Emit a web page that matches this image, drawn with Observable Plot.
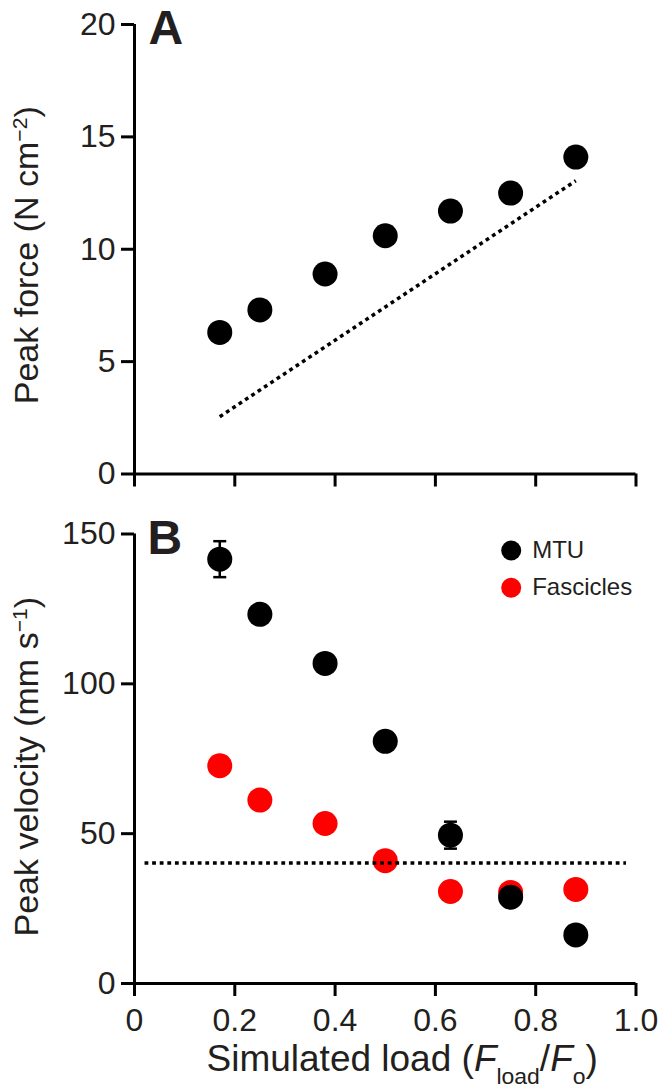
<!DOCTYPE html>
<html><head><meta charset="utf-8">
<script src="https://cdn.jsdelivr.net/npm/d3@7"></script>
<script src="https://cdn.jsdelivr.net/npm/@observablehq/plot@0.6"></script>
<style>
html,body{margin:0;padding:0;background:#fff;}
#chart svg{display:block;}
</style></head><body><div id="chart"></div>
<script>
// ---- data ----
const loads = [0.17, 0.25, 0.38, 0.50, 0.63, 0.75, 0.88];
const peakForce = [6.3, 7.3, 8.9, 10.6, 11.7, 12.5, 14.1];
const predictedLoads = [0.17, 0.88];
const predictedForce = [2.55, 13.05];
const mtuVelocity = [141.6, 123.2, 106.8, 80.8, 49.5, 28.8, 16.2];
const mtuError = [6, 0, 0, 0, 4.5, 0, 0];
const fascicleVelocity = [72.7, 61.2, 53.4, 41.0, 30.7, 30.4, 31.4];
const thresholdLoads = [0.02, 0.98];
const thresholdVelocity = [40.2, 40.2];
const xTicks = [0, 0.2, 0.4, 0.6, 0.8, 1.0];
const forceTicks = [0, 5, 10, 15, 20];
const velocityTicks = [0, 50, 100, 150];
const seriesNames = ["MTU", "Fascicles"];
const seriesColors = ["#000000", "#ff0000"];

// ---- tables ----
const forceData = loads.map((x, i) => ({x, y: peakForce[i]}));
const predData = predictedLoads.map((x, i) => ({x, y: predictedForce[i]}));
const mtuData = loads.map((x, i) => ({x, y: mtuVelocity[i], e: mtuError[i]}));
const errData = mtuData.filter(d => d.e > 0);
const fasData = loads.map((x, i) => ({x, y: fascicleVelocity[i]}));
const thrData = thresholdLoads.map((x, i) => ({x, y: thresholdVelocity[i]}));

const FONT = "'Liberation Sans', Arial, Helvetica, sans-serif";
const TXT = "#231f20";
const capSymbol = {draw(ctx) { ctx.moveTo(-6.5, 0); ctx.lineTo(6.5, 0); }};
const dotted = {stroke: "black", strokeWidth: 3.5, strokeDasharray: "3.8 3.8", strokeLinecap: "butt"};

const common = {
  width: 660, marginLeft: 134, marginRight: 24.5,
  x: {domain: [0, 1]},
  style: {fontFamily: FONT, fontSize: "32px", color: TXT, background: "#fff", overflow: "visible"}
};

const axisLines = (ymax) => [
  Plot.ruleX([0], {y1: 0, y2: ymax, stroke: "black", strokeWidth: 3}),
  Plot.ruleY([0], {x1: 0, x2: 1, stroke: "black", strokeWidth: 3})
];

const chartA = Plot.plot({
  ...common, height: 500, marginTop: 24, marginBottom: 26.5,
  y: {domain: [0, 20]},
  marks: [
    Plot.axisY({ticks: forceTicks, tickSize: 13, tickPadding: 6, strokeWidth: 3, stroke: "black", fontSize: 32, label: null}),
    Plot.axisX({ticks: xTicks, tickSize: 13, strokeWidth: 3, stroke: "black", tickFormat: () => "", label: null}),
    ...axisLines(20),
    Plot.dot(forceData, {x: "x", y: "y", r: 12.5, fill: "black"}),
    Plot.line(predData, {x: "x", y: "y", ...dotted}),
    Plot.text(["Peak force (N cm-2)"], {frameAnchor: "left", rotate: -90, dx: -97, dy: 6, fontSize: 34, textAnchor: "middle", lineAnchor: "bottom", fill: TXT}),
    Plot.text(["A"], {frameAnchor: "top-left", dx: 14, dy: 19, fontSize: 48, fontWeight: "bold", textAnchor: "start", lineAnchor: "bottom", fill: TXT})
  ]
});

const chartB = Plot.plot({
  ...common, height: 590, marginTop: 33.5, marginBottom: 107,
  y: {domain: [0, 150]},
  marks: [
    Plot.axisY({ticks: velocityTicks, tickSize: 13, tickPadding: 6, strokeWidth: 3, stroke: "black", fontSize: 32, label: null}),
    Plot.axisX({ticks: xTicks, tickSize: 13, tickPadding: 12, strokeWidth: 3, stroke: "black", fontSize: 32,
      tickFormat: d => d === 0 ? "0" : d3.format(".1f")(d), label: null}),
    ...axisLines(150),
    Plot.dot(fasData, {x: "x", y: "y", r: 12.5, fill: seriesColors[1]}),
    Plot.ruleX(errData, {x: "x", y1: d => d.y - d.e, y2: d => d.y + d.e, stroke: "black", strokeWidth: 2.5}),
    Plot.dot(errData, {x: "x", y: d => d.y + d.e, symbol: capSymbol, stroke: "black", strokeWidth: 2.5, fill: "none"}),
    Plot.dot(errData, {x: "x", y: d => d.y - d.e, symbol: capSymbol, stroke: "black", strokeWidth: 2.5, fill: "none"}),
    Plot.dot(mtuData, {x: "x", y: "y", r: 12.5, fill: seriesColors[0]}),
    Plot.line(thrData, {x: "x", y: "y", ...dotted}),
    Plot.text(["Peak velocity (mm s-1)"], {frameAnchor: "left", rotate: -90, dx: -97, dy: 8, fontSize: 34, textAnchor: "middle", lineAnchor: "bottom", fill: TXT}),
    Plot.text(["Simulated load (Fload/Fo)"], {frameAnchor: "bottom-left", dy: 87, dx: 72, fontSize: 37, textAnchor: "start", lineAnchor: "bottom", fill: TXT}),
    // legend
    Plot.dot([seriesNames[0]], {frameAnchor: "top-right", dx: -124.8, dy: 16.5, r: 10, fill: seriesColors[0]}),
    Plot.dot([seriesNames[1]], {frameAnchor: "top-right", dx: -124.8, dy: 53.8, r: 10, fill: seriesColors[1]}),
    Plot.text([seriesNames[0]], {text: d => d, frameAnchor: "top-right", dx: -103.8, dy: 16.5, fontSize: 24, textAnchor: "start", lineAnchor: "middle", fill: TXT}),
    Plot.text([seriesNames[1]], {text: d => d, frameAnchor: "top-right", dx: -103.8, dy: 53.8, fontSize: 24, textAnchor: "start", lineAnchor: "middle", fill: TXT}),
    Plot.text(["B"], {frameAnchor: "top-left", dx: 13, dy: 19.5, fontSize: 48, fontWeight: "bold", textAnchor: "start", lineAnchor: "bottom", fill: TXT})
  ]
});

function rich(svg, plain, html) {
  d3.select(svg).selectAll("text")
    .filter(function() { return this.textContent === plain; })
    .each(function() { this.innerHTML = html; });
}
rich(chartA, "Peak force (N cm-2)", 'Peak force (N cm<tspan baseline-shift="super" font-size="0.62em">\u22122</tspan>)');
rich(chartB, "Peak velocity (mm s-1)", 'Peak velocity (mm s<tspan baseline-shift="super" font-size="0.62em">\u22121</tspan>)');
rich(chartB, "Simulated load (Fload/Fo)", 'Simulated load (<tspan font-style="italic">F</tspan><tspan baseline-shift="sub" font-size="0.62em">load</tspan>/<tspan font-style="italic">F</tspan><tspan baseline-shift="sub" font-size="0.62em">o</tspan>)');

const el = document.getElementById("chart");
el.appendChild(chartA);
el.appendChild(chartB);
</script></body></html>
